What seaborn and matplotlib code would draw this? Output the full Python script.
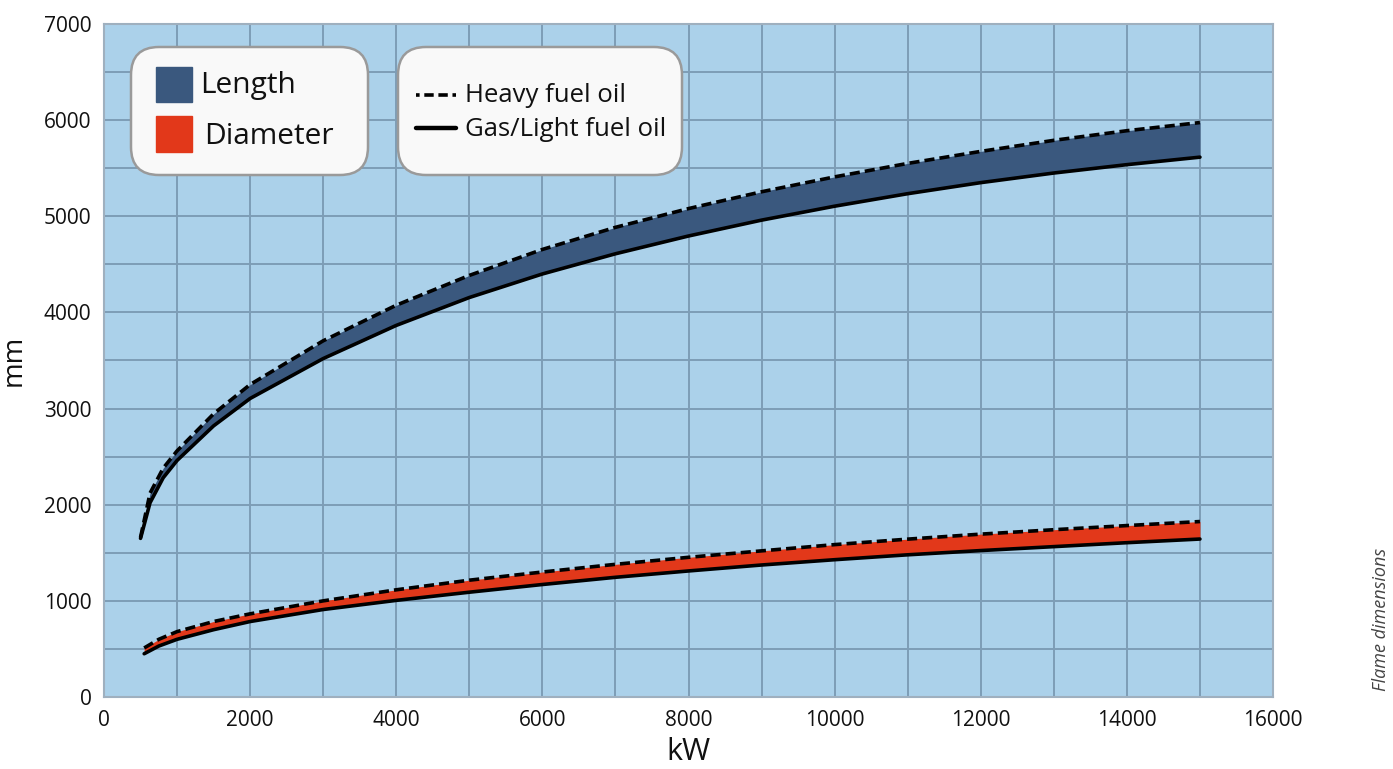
import matplotlib
matplotlib.use("Agg")
import matplotlib.pyplot as plt
from matplotlib.patches import FancyBboxPatch, Rectangle
from matplotlib.lines import Line2D
from matplotlib.transforms import IdentityTransform
import seaborn as sns
import pandas as pd
import numpy as np

# ---------------- data ----------------
kw_length = [500, 630, 810, 1000, 1500, 2000, 3000, 4000, 5000, 6000, 7000,
             8000, 9000, 10000, 11000, 12000, 13000, 14000, 15000]
length_heavy = [1660, 2120, 2380, 2560, 2945, 3250, 3705, 4075, 4385, 4655, 4885,
                5080, 5255, 5410, 5550, 5675, 5790, 5890, 5975]
length_gas = [1650, 2020, 2280, 2460, 2820, 3105, 3520, 3865, 4155, 4400, 4610,
              4795, 4960, 5105, 5235, 5350, 5450, 5537, 5615]

kw_diameter = [550, 750, 1000, 1500, 2000, 3000, 4000, 5000, 6000, 7000,
               8000, 9000, 10000, 11000, 12000, 13000, 14000, 15000]
diameter_heavy = [510, 600, 680, 785, 865, 1000, 1115, 1215, 1300, 1380,
                  1453, 1520, 1585, 1642, 1694, 1740, 1783, 1825]
diameter_gas = [450, 530, 600, 700, 785, 910, 1005, 1090, 1170, 1245,
                1311, 1373, 1428, 1479, 1523, 1564, 1605, 1643]

x_ticks = [0, 2000, 4000, 6000, 8000, 10000, 12000, 14000, 16000]
y_ticks = [0, 1000, 2000, 3000, 4000, 5000, 6000, 7000]

series_labels = ["Length", "Diameter"]
fuel_labels = ["Heavy fuel oil", "Gas/Light fuel oil"]

# ---------------- styling ----------------
sns.set_style("white")
plt.rcParams['font.family'] = ['Open Sans', 'DejaVu Sans']

BG = "#abd1ea"
GRID = "#7d9db6"
LEN_COL = "#3a587e"
DIA_COL = "#e2381a"
TXT = "#111111"

W, H = 1393, 769
fig = plt.figure(figsize=(W / 100, H / 100), dpi=100)
ax = fig.add_axes([104 / W, 1 - 697 / H, (1273 - 104) / W, (697 - 24) / H])
ax.set_facecolor(BG)

# fills
ax.fill_between(kw_length, length_gas, length_heavy, color=LEN_COL, lw=0, zorder=2)
ax.fill_between(kw_diameter, diameter_gas, diameter_heavy, color=DIA_COL, lw=0, zorder=2)

LW = 2.6
DASH = (2.8, 1.4)
for xs, heavy, gas in [(kw_length, length_heavy, length_gas),
                       (kw_diameter, diameter_heavy, diameter_gas)]:
    sns.lineplot(x=xs, y=gas, color="black", lw=LW, ax=ax, zorder=3,
                 sort=False, estimator=None)
    ax.lines[-1].set_solid_capstyle("round")
    ax.lines[-1].set_solid_joinstyle("round")
    sns.lineplot(x=xs, y=heavy, color="black", lw=LW, ax=ax, zorder=4,
                 sort=False, estimator=None)
    ax.lines[-1].set_dashes(DASH)
    ax.lines[-1].set_dash_capstyle("butt")
    ax.lines[-1].set_dash_joinstyle("round")

ax.set_xlim(0, 16000)
ax.set_ylim(0, 7000)
ax.set_xticks(x_ticks)
ax.set_yticks(y_ticks)
ax.set_xticks(np.arange(0, 16001, 1000), minor=True)
ax.set_yticks(np.arange(0, 7001, 500), minor=True)
ax.grid(True, which="both", color=GRID, lw=1.4, zorder=0)
ax.set_axisbelow(True)
ax.tick_params(which="both", length=0)
ax.tick_params(axis="x", labelsize=15, pad=9, colors=TXT)
ax.tick_params(axis="y", labelsize=15, pad=9, colors=TXT)
ax.set_xticklabels([str(v) for v in x_ticks])
ax.set_yticklabels([str(v) for v in y_ticks])
for s in ax.spines.values():
    s.set_color("#9fb0bf")
    s.set_linewidth(1.5)

ax.set_xlabel("kW", fontsize=22, labelpad=5, color=TXT)
ax.set_ylabel("mm", fontsize=20, labelpad=12, color=TXT)

# ---------------- legend boxes (pixel coords, origin bottom-left) ----------------
T = IdentityTransform()


def box(x0, x1, ytop, ybot):
    p = FancyBboxPatch((x0, H - ybot), x1 - x0, ybot - ytop,
                       boxstyle="round,pad=0,rounding_size=28",
                       transform=T, facecolor="#f9f9f9", edgecolor="#9a9a9a",
                       lw=1.8, zorder=10)
    fig.add_artist(p)


box(131, 368, 47, 175)
box(398, 682, 47, 175)

fig.add_artist(Rectangle((156, H - 102), 36, 35, transform=T, color=LEN_COL, zorder=11))
fig.add_artist(Rectangle((156, H - 152), 36, 36, transform=T, color=DIA_COL, zorder=11))
fig.text(200, H - 86, series_labels[0], transform=T, fontsize=21.5, va="center",
         ha="left", color=TXT, zorder=12)
fig.text(204, H - 136, series_labels[1], transform=T, fontsize=21.5, va="center",
         ha="left", color=TXT, zorder=12)

l1 = Line2D([416, 456], [H - 95, H - 95], transform=T, color="black", lw=LW,
            zorder=12)
l1.set_dashes((1.0, 1.3, 2.6, 1.3, 2.6, 1.3, 1.0, 0))
fig.add_artist(l1)
l2 = Line2D([416, 456], [H - 128, H - 128], transform=T, color="black", lw=LW + 0.6,
            zorder=12, solid_capstyle="round")
fig.add_artist(l2)
fig.text(465, H - 96, fuel_labels[0], transform=T, fontsize=18.5, va="center",
         ha="left", color=TXT, zorder=12)
fig.text(465, H - 129, fuel_labels[1], transform=T, fontsize=18.5, va="center",
         ha="left", color=TXT, zorder=12)

fig.text(1381, H - 619, "Flame dimensions", transform=T, fontsize=13, rotation=90,
         style="italic", color="#444444", ha="center", va="center")

fig.savefig("out.png", dpi=100)
